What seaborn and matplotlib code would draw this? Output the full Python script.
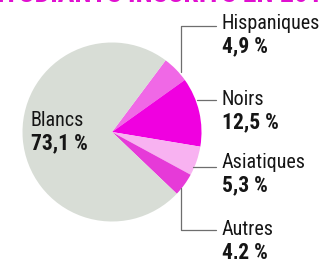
import matplotlib
matplotlib.use("Agg")
import matplotlib.pyplot as plt
import seaborn as sns

# parts of the pie, clockwise from the top right
groupes = ["Hispaniques", "Noirs", "Asiatiques", "Autres", "Blancs"]
parts = [4.9, 12.5, 5.3, 4.2, 73.1]
etiquettes = ["4,9 %", "12,5 %", "5,3 %", "4,2 %", "73,1 %"]
couleurs = ["#f068e6", "#f000e0", "#f8b2f1", "#e63ad8", "#d8ddd6"]
titre = "ÉTUDIANTS INSCRITS EN 2014"

sns.set_theme(style="white")
police = ["Roboto Condensed", "Asap Condensed", "DejaVu Sans"]
plt.rcParams["font.family"] = police

W, H = 322, 259
fig = plt.figure(figsize=(W / 100, H / 100), dpi=100)
ax = fig.add_axes([0, 0, 1, 1])

cx, cy, r = 112, H - 132, 89.5
ax.pie(parts, colors=sns.color_palette(couleurs), startangle=53.2, counterclock=False,
       center=(cx, cy), radius=r, frame=True,
       wedgeprops=dict(linewidth=0))
ax.set_xlim(0, W)
ax.set_ylim(0, H)
ax.set_aspect("equal")
ax.axis("off")

# label positions (baseline of the name line), pixels from top
pos = {"Hispaniques": (222, 29), "Noirs": (222, 105), "Asiatiques": (222, 168),
       "Autres": (222, 235), "Blancs": (31, 126)}
for g, lab in zip(groupes, etiquettes):
    x, yb = pos[g]
    ax.text(x, H - yb, g, fontsize=14.5, color="#151515", ha="left", va="baseline")
    ax.text(x, H - yb - 23, lab, fontsize=15.5, fontweight="bold", color="#151515",
            ha="left", va="baseline")

# leader lines
gris = "#6e6e6e"
lw = 0.9
ax.plot([181, 181, 216], [H - 72, H - 26, H - 26], color=gris, lw=lw)
ax.plot([197, 216], [H - 100, H - 100], color=gris, lw=lw)
ax.plot([193, 216], [H - 167, H - 167], color=gris, lw=lw)
ax.plot([181, 181, 216], [H - 188, H - 230, H - 230], color=gris, lw=lw)

# title, mostly cut off by the top edge
ax.text(163, H - 1.5, titre, fontsize=20, fontweight="bold", color="#e010d0",
        ha="center", va="baseline")

fig.savefig("out.png", dpi=100)
